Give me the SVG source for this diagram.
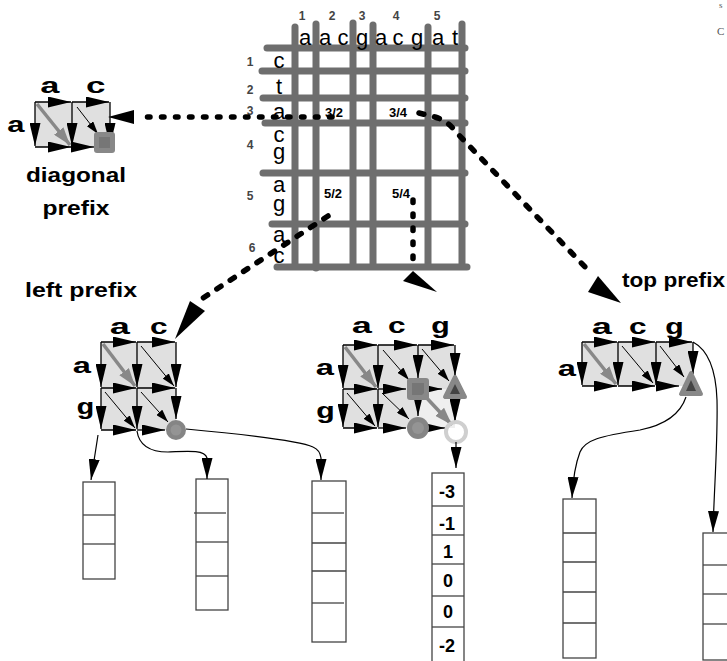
<svg xmlns="http://www.w3.org/2000/svg" width="727" height="661" viewBox="0 0 727 661">
<defs>
<marker id="ah" markerUnits="userSpaceOnUse" markerWidth="23" markerHeight="11" refX="23" refY="5.5" orient="auto"><path d="M0,0 L23,5.5 L0,11 z" fill="#000"/></marker>
<marker id="ahs" markerUnits="userSpaceOnUse" markerWidth="13" markerHeight="8" refX="13" refY="4" orient="auto"><path d="M0,0 L13,4 L0,8 z" fill="#000"/></marker>
<marker id="ahg" markerUnits="userSpaceOnUse" markerWidth="18" markerHeight="12" refX="18" refY="6" orient="auto"><path d="M0,0 L18,6 L0,12 z" fill="#888"/></marker>
<marker id="ahc" markerUnits="userSpaceOnUse" markerWidth="21" markerHeight="11" refX="21" refY="5.5" orient="auto"><path d="M0,0 L21,5.5 L0,11 z" fill="#000"/></marker>
</defs>
<style>
.gl{stroke:#6e6e6e;stroke-width:7;stroke-linecap:round}
.sq{font-family:"Liberation Sans",Arial,sans-serif;font-size:22px;text-anchor:middle}
.num{font-family:"Liberation Sans",Arial,sans-serif;font-size:12px;font-weight:bold;fill:#444;text-anchor:middle}
.lab{font-family:"Liberation Sans",Arial,sans-serif;font-size:13px;font-weight:bold;text-anchor:middle}
.cl{font-family:"Liberation Mono","Courier New",monospace;font-weight:bold;font-size:22px;text-anchor:middle}
.cap{font-family:"Liberation Sans",Arial,sans-serif;font-weight:bold;font-size:20px}
.cell{fill:#e0e0e0}
.e{stroke:#000;stroke-width:1.3;fill:none;marker-end:url(#ah)}
.d{stroke:#000;stroke-width:1;fill:none;marker-end:url(#ahs)}
.g{stroke:#888;stroke-width:3.5;fill:none;marker-end:url(#ahg)}
.dot{stroke:#000;stroke-width:5.5;stroke-linecap:round;fill:none;stroke-dasharray:2.5 11.5}
.dg{stroke-dasharray:5 11}
.crv{stroke:#000;stroke-width:1.2;fill:none;marker-end:url(#ahc)}
.arr{fill:#fff;stroke:#444;stroke-width:1.3}
.dv{stroke:#444;stroke-width:1.3}
.v{font-family:"Liberation Sans",Arial,sans-serif;font-weight:bold;font-size:18px;text-anchor:middle}
.sqm{fill:#888}
.sqi{fill:#767676}
.frag{font-family:"Liberation Serif",serif;fill:#555}
</style>

<g id="matrix">
<line class="gl" x1="295" y1="27" x2="295" y2="266"/>
<line class="gl" x1="316" y1="24" x2="316" y2="268"/>
<line class="gl" x1="353" y1="23" x2="353" y2="266"/>
<line class="gl" x1="373" y1="25" x2="373" y2="266"/>
<line class="gl" x1="428" y1="27" x2="428" y2="266"/>
<line class="gl" x1="462" y1="24" x2="462" y2="266"/>
<line class="gl" x1="267" y1="48" x2="465" y2="48"/>
<line class="gl" x1="262" y1="71" x2="465" y2="71"/>
<line class="gl" x1="263" y1="98" x2="465" y2="98"/>
<line class="gl" x1="265" y1="123" x2="465" y2="123"/>
<line class="gl" x1="263" y1="173" x2="465" y2="173"/>
<line class="gl" x1="272" y1="224" x2="465" y2="224"/>
<line class="gl" x1="277" y1="267" x2="467" y2="267"/>
<text class="num" x="302" y="20">1</text>
<text class="num" x="332" y="20">2</text>
<text class="num" x="362" y="20">3</text>
<text class="num" x="396" y="20">4</text>
<text class="num" x="437" y="20">5</text>
<text class="sq" x="305" y="45">a</text>
<text class="sq" x="325" y="45">a</text>
<text class="sq" x="343" y="45">c</text>
<text class="sq" x="362" y="45">g</text>
<text class="sq" x="381" y="45">a</text>
<text class="sq" x="398" y="45">c</text>
<text class="sq" x="417" y="45">g</text>
<text class="sq" x="438" y="45">a</text>
<text class="sq" x="455" y="45">t</text>
<text class="num" x="250" y="66">1</text>
<text class="num" x="250" y="94">2</text>
<text class="num" x="250" y="115">3</text>
<text class="num" x="250" y="149">4</text>
<text class="num" x="250" y="200">5</text>
<text class="num" x="252" y="252">6</text>
<text class="sq" x="279" y="68">c</text>
<text class="sq" x="279" y="94">t</text>
<text class="sq" x="279" y="119">a</text>
<text class="sq" x="279" y="142">c</text>
<text class="sq" x="279" y="159">g</text>
<text class="sq" x="279" y="192">a</text>
<text class="sq" x="279" y="211">g</text>
<text class="sq" x="279" y="242">a</text>
<text class="sq" x="279" y="263">c</text>
<text class="lab" x="334" y="117">3/2</text>
<text class="lab" x="398" y="117">3/4</text>
<text class="lab" x="333" y="198">5/2</text>
<text class="lab" x="401" y="198">5/4</text>
</g>

<g id="diag-prefix">
<rect class="cell" x="35" y="102" width="75" height="45"/>
<path class="e" d="M35,102H71"/>
<path class="e" d="M72,102H109"/>
<path class="e" d="M35,102V146"/>
<path class="e" d="M72,102V146"/>
<path class="e" d="M110,102V146"/>
<path class="e" d="M35,147H71"/>
<path class="e" d="M72,147H94"/>
<path class="g" d="M37,104L70,145"/>
<path class="d" d="M77,107L98,134"/>
<rect class="sqm" x="94" y="132" width="21" height="21" rx="3"/>
<rect class="sqi" x="99" y="137" width="11" height="11"/>
<text class="cl" x="50" y="93" textLength="21" lengthAdjust="spacingAndGlyphs">a</text>
<text class="cl" x="96" y="93" textLength="21" lengthAdjust="spacingAndGlyphs">c</text>
<text class="cl" x="16" y="132" textLength="19" lengthAdjust="spacingAndGlyphs">a</text>
<text class="cap" x="76" y="182" text-anchor="middle" textLength="100" lengthAdjust="spacingAndGlyphs">diagonal</text>
<text class="cap" x="76" y="215" text-anchor="middle" textLength="67" lengthAdjust="spacingAndGlyphs">prefix</text>
</g>

<g id="left-prefix">
<text class="cap" x="25" y="297" textLength="112" lengthAdjust="spacingAndGlyphs">left prefix</text>
<rect class="cell" x="101" y="342" width="75" height="88"/>
<path class="e" d="M101,342H136"/>
<path class="e" d="M137,342H175"/>
<path class="e" d="M101,388H136"/>
<path class="e" d="M137,388H175"/>
<path class="e" d="M101,430H136"/>
<path class="e" d="M137,430H165"/>
<path class="e" d="M101,342V387"/>
<path class="e" d="M101,388V429"/>
<path class="e" d="M137,342V387"/>
<path class="e" d="M137,388V429"/>
<path class="e" d="M176,342V387"/>
<path class="e" d="M176,388V419"/>
<path class="g" d="M103,344L135,386"/>
<path class="d" d="M141,346L174,386"/>
<path class="d" d="M105,392L135,428"/>
<path class="d" d="M141,392L168,422"/>
<circle cx="176" cy="430" r="10" fill="#858585"/>
<circle cx="176" cy="430" r="5.5" fill="#949494"/>
<text class="cl" x="120" y="334" textLength="22" lengthAdjust="spacingAndGlyphs">a</text>
<text class="cl" x="159" y="334" textLength="19" lengthAdjust="spacingAndGlyphs">c</text>
<text class="cl" x="82" y="373" textLength="20" lengthAdjust="spacingAndGlyphs">a</text>
<text class="cl" x="85" y="414" textLength="18" lengthAdjust="spacingAndGlyphs">g</text>
</g>

<g id="mid-prefix">
<rect class="cell" x="343" y="345" width="112" height="83"/>
<rect x="418" y="389" width="37" height="39" fill="#efefef"/>
<path class="e" d="M343,345H377"/>
<path class="e" d="M378,345H417"/>
<path class="e" d="M418,345H454"/>
<path class="e" d="M343,389H377"/>
<path class="e" d="M378,389H406"/>
<path class="e" d="M429,389H442"/>
<path class="e" d="M343,428H377"/>
<path class="e" d="M378,428H406"/>
<path class="e" d="M429,428H445"/>
<path class="e" d="M343,345V388"/>
<path class="e" d="M343,389V427"/>
<path class="e" d="M378,345V388"/>
<path class="e" d="M378,389V427"/>
<path class="e" d="M418,345V378"/>
<path class="e" d="M418,400V416"/>
<path class="e" d="M455,345V376"/>
<path class="e" d="M455,400V422"/>
<path class="g" d="M345,347L376,387"/>
<path class="d" d="M383,350L409,380"/>
<path class="d" d="M422,349L449,381"/>
<path class="d" d="M347,393L375,426"/>
<path class="d" d="M382,393L409,419"/>
<rect class="sqm" x="407" y="378" width="22" height="22" rx="3"/>
<rect class="sqi" x="412" y="383" width="12" height="12"/>
<path class="g" d="M423,394L452,425"/>
<polygon points="455,377 445,397 465,397" fill="#888" stroke="#888" stroke-width="4" stroke-linejoin="round"/>
<polygon points="455,384 450,394 460,394" fill="#444"/>
<circle cx="418" cy="428" r="11" fill="#858585"/>
<circle cx="418" cy="428" r="6" fill="#949494"/>
<circle cx="456" cy="432" r="10" fill="none" stroke="#cfcfcf" stroke-width="4"/>
<text class="cl" x="362" y="333" textLength="22" lengthAdjust="spacingAndGlyphs">a</text>
<text class="cl" x="397" y="333" textLength="19" lengthAdjust="spacingAndGlyphs">c</text>
<text class="cl" x="440" y="333" textLength="19" lengthAdjust="spacingAndGlyphs">g</text>
<text class="cl" x="325" y="375" textLength="20" lengthAdjust="spacingAndGlyphs">a</text>
<text class="cl" x="325" y="418" textLength="19" lengthAdjust="spacingAndGlyphs">g</text>
</g>

<g id="top-prefix">
<text class="cap" x="622" y="287" textLength="103" lengthAdjust="spacingAndGlyphs">top prefix</text>
<rect class="cell" x="582" y="342" width="111" height="44"/>
<path class="e" d="M582,342H617"/>
<path class="e" d="M618,342H655"/>
<path class="e" d="M656,342H692"/>
<path class="e" d="M582,342V385"/>
<path class="e" d="M618,342V385"/>
<path class="e" d="M656,342V385"/>
<path class="e" d="M693,342V374"/>
<path class="e" d="M582,386H617"/>
<path class="e" d="M618,386H655"/>
<path class="e" d="M656,386H679"/>
<path class="g" d="M584,344L616,384"/>
<path class="d" d="M622,346L653,383"/>
<path class="d" d="M660,346L684,377"/>
<polygon points="691,373 681,394 701,394" fill="#888" stroke="#888" stroke-width="4" stroke-linejoin="round"/>
<polygon points="691,380 686,391 696,391" fill="#444"/>
<text class="cl" x="602" y="334" textLength="22" lengthAdjust="spacingAndGlyphs">a</text>
<text class="cl" x="638" y="334" textLength="19" lengthAdjust="spacingAndGlyphs">c</text>
<text class="cl" x="674" y="334" textLength="19" lengthAdjust="spacingAndGlyphs">g</text>
<text class="cl" x="567" y="376" textLength="20" lengthAdjust="spacingAndGlyphs">a</text>
</g>

<g id="array1">
<rect class="arr" x="83" y="482" width="32" height="97"/>
<line class="dv" x1="83" y1="515" x2="115" y2="515"/>
<line class="dv" x1="83" y1="544" x2="115" y2="544"/>
</g>
<g id="array2">
<rect class="arr" x="196" y="479" width="32" height="131"/>
<line class="dv" x1="194" y1="513" x2="226" y2="513"/>
<line class="dv" x1="196" y1="542" x2="228" y2="542"/>
<line class="dv" x1="196" y1="576" x2="228" y2="576"/>
</g>
<g id="array3">
<rect class="arr" x="312" y="481" width="34" height="161"/>
<line class="dv" x1="312" y1="513" x2="344" y2="513"/>
<line class="dv" x1="312" y1="543" x2="346" y2="543"/>
<line class="dv" x1="312" y1="571" x2="346" y2="571"/>
<line class="dv" x1="312" y1="603" x2="344" y2="603"/>
</g>
<g id="array4">
<rect class="arr" x="432" y="473" width="32" height="200"/>
<line class="dv" x1="432" y1="506" x2="463" y2="506"/>
<line class="dv" x1="432" y1="535" x2="464" y2="535"/>
<line class="dv" x1="432" y1="564" x2="464" y2="564"/>
<line class="dv" x1="432" y1="596" x2="464" y2="596"/>
<line class="dv" x1="432" y1="627" x2="464" y2="627"/>
<text class="v" x="447" y="498">-3</text>
<text class="v" x="447" y="530">-1</text>
<text class="v" x="448" y="558">1</text>
<text class="v" x="448" y="587">0</text>
<text class="v" x="448" y="618">0</text>
<text class="v" x="447" y="652">-2</text>
</g>
<g id="array5">
<rect class="arr" x="563" y="499" width="33" height="159"/>
<line class="dv" x1="563" y1="533" x2="596" y2="533"/>
<line class="dv" x1="563" y1="562" x2="596" y2="562"/>
<line class="dv" x1="563" y1="592" x2="596" y2="592"/>
<line class="dv" x1="563" y1="623" x2="596" y2="623"/>
</g>
<g id="array6">
<rect class="arr" x="703" y="533" width="40" height="127"/>
<line class="dv" x1="703" y1="565" x2="727" y2="565"/>
<line class="dv" x1="703" y1="594" x2="727" y2="594"/>
<line class="dv" x1="703" y1="624" x2="727" y2="624"/>
</g>

<g id="connectors">
<path class="dot" d="M332,117H140"/>
<polygon points="108,117 134,110 134,124"/>
<path class="dot dg" d="M419,113L435,117Q448,121 456,132L588,270"/>
<polygon points="598,276 588,292 621,303"/>
<path class="dot dg" d="M328,216L200,300"/>
<polygon points="190,301 205,311 175,339"/>
<path class="dot" d="M413,200V262"/>
<polygon points="413,271 403,281 437,292"/>
<path class="crv" d="M98,435L91,480"/>
<path class="crv" d="M137,431C139,445 150,452 168,452C190,451 205,450 207,458L207,479"/>
<path class="crv" d="M186,429C240,434 300,441 313,447Q320,450 321,458L321,480"/>
<path class="crv" d="M456,442V468"/>
<path class="crv" d="M686,397C680,415 665,425 640,430C600,436 585,440 580,452C575,465 573,478 572,498"/>
<path class="crv" d="M693,342C708,350 716,370 717,400C718,440 714,490 713,532"/>
</g>

<text class="frag" x="719" y="8" font-size="9">s</text>
<text class="frag" x="717" y="35" font-size="11">C</text>
</svg>
